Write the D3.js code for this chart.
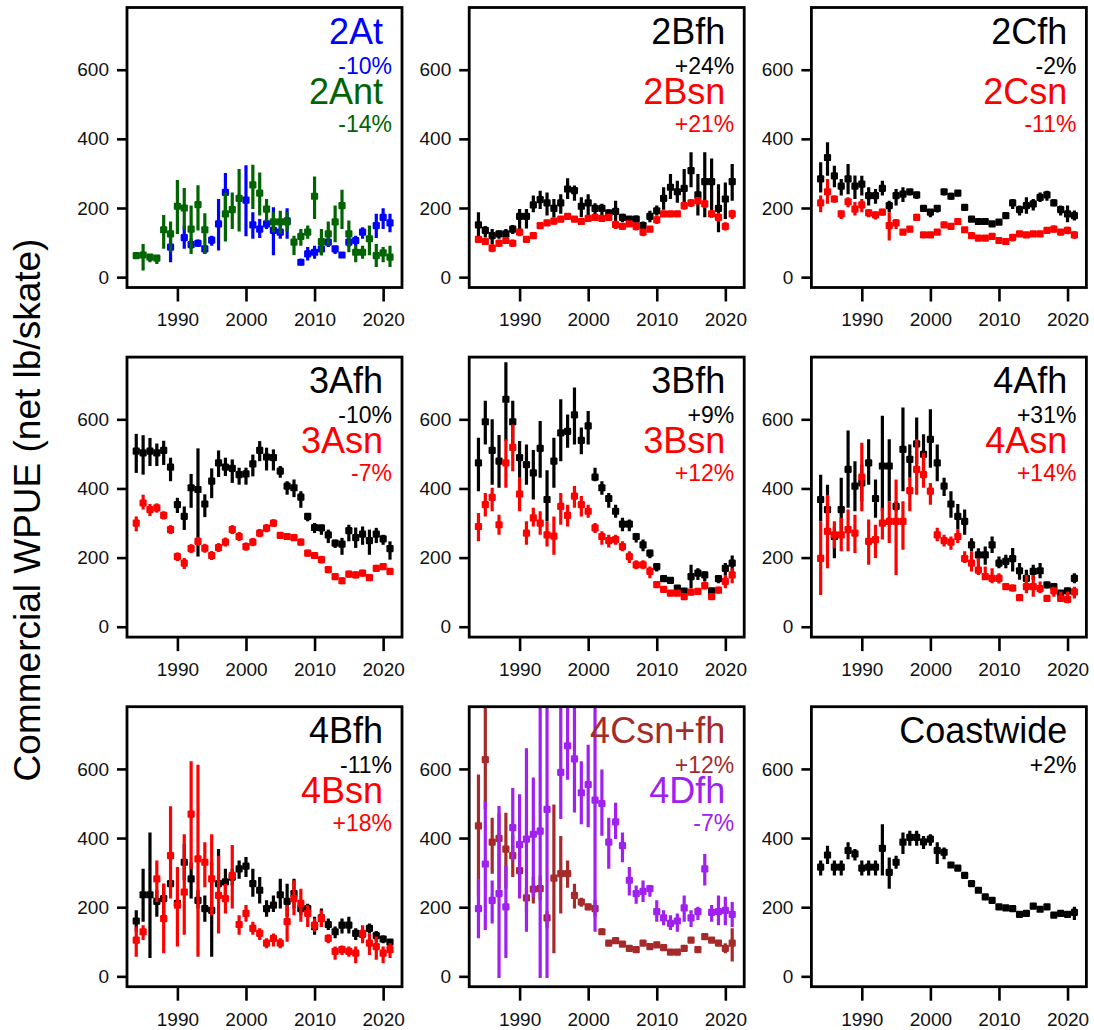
<!DOCTYPE html>
<html><head><meta charset="utf-8">
<script src="https://cdn.jsdelivr.net/npm/d3@7"></script>
<style>body{margin:0;background:#fff} svg{display:block} text{font-family:"Liberation Sans",Arial,sans-serif}</style>
</head><body><svg id="c" width="1094" height="1030"></svg>
<script>
const years = [1984,1985,1986,1987,1988,1989,1990,1991,1992,1993,1994,1995,1996,1997,1998,1999,2000,2001,2002,2003,2004,2005,2006,2007,2008,2009,2010,2011,2012,2013,2014,2015,2016,2017,2018,2019,2020,2021];
const yTicks = [0,200,400,600];
const xTicks = [1990,2000,2010,2020];
const yTitle = "Commercial WPUE (net lb/skate)";

// 2At
const v2At  = [null,null,null,null,null,87,null,114,94,98,82,107,154,245,null,null,223,151,139,154,135,130,163,null,43,67,72,82,101,82,64,101,106,130,null,149,173,157];
const lo2At = [null,null,null,null,null,43,null,82,82,87,67,91,77,188,null,null,118,111,113,139,63,111,111,null,34,48,53,63,87,67,58,87,91,111,null,113,139,130];
const hi2At = [null,null,null,null,null,120,null,149,111,109,91,120,226,301,null,null,324,188,168,168,202,154,199,null,53,87,91,96,115,91,72,115,120,144,null,183,199,183];
// 2Ant
const v2Ant  = [62,64,58,55,137,125,205,200,139,210,137,null,null,183,195,228,null,267,243,197,160,160,160,101,118,130,234,103,125,160,207,125,72,72,111,62,70,58];
const lo2Ant = [55,19,43,38,82,72,125,138,67,135,67,null,null,103,139,132,null,197,178,161,130,125,132,64,91,111,168,63,91,101,139,72,43,53,63,29,43,29];
const hi2Ant = [70,96,67,64,180,161,281,258,207,266,185,null,null,245,245,313,null,325,303,226,188,192,188,120,139,149,291,139,161,207,253,164,93,91,149,96,87,91];
// 2Bfh
const v2Bfh  = [151,135,120,125,125,139,176,176,209,224,215,199,215,255,250,205,215,199,199,186,190,173,168,168,149,176,192,228,260,247,257,308,238,276,276,199,226,276];
const lo2Bfh = [115,115,96,111,111,125,139,141,188,197,178,173,183,226,221,173,180,178,178,173,159,159,159,157,139,159,178,195,226,215,202,260,178,173,188,130,168,221];
const hi2Bfh = [188,148,139,135,139,151,197,197,236,250,245,226,240,286,265,231,240,214,212,196,221,183,173,178,161,192,207,260,298,279,313,361,298,361,343,269,274,327];
// 2Bsn
const v2Bsn  = [109,103,84,98,106,98,130,109,120,149,157,162,168,176,168,161,170,173,170,173,152,147,154,147,130,139,166,183,183,183,207,215,221,212,183,173,147,183];
const lo2Bsn = [99,95,72,87,96,87,118,101,111,144,149,152,160,170,161,154,163,165,163,166,139,139,146,135,118,130,154,175,176,176,195,203,210,200,172,160,135,168];
const hi2Bsn = [119,112,96,109,116,109,139,115,130,154,166,173,175,182,175,168,178,180,177,180,164,156,162,159,139,148,178,190,190,190,218,226,232,224,194,186,159,195];
// 2Cfh
const v2Cfh  = [284,346,293,263,284,263,269,236,236,257,207,236,240,247,238,199,188,199,247,234,243,202,168,161,161,154,159,178,215,195,207,212,231,238,215,195,183,178];
const lo2Cfh = [245,293,260,236,240,226,236,207,212,236,188,207,217,236,226,190,173,187,236,224,234,194,162,155,155,148,152,170,197,178,183,193,217,221,205,178,159,164];
const hi2Cfh = [332,390,322,284,327,294,293,260,255,279,221,255,260,255,247,207,197,207,255,244,250,210,174,167,167,160,166,186,226,207,231,226,245,250,225,207,207,193];
// 2Csn
const v2Csn  = [215,247,226,183,218,197,209,186,180,188,149,157,130,139,173,122,122,130,151,147,161,137,120,113,113,118,106,103,115,125,122,125,125,135,139,130,135,122];
const lo2Csn = [188,212,215,168,202,178,188,173,167,178,106,139,122,130,164,115,115,123,142,138,152,129,113,106,106,111,100,96,103,117,114,117,117,126,129,121,124,111];
const hi2Csn = [236,284,236,192,231,217,226,197,190,198,188,168,138,148,183,129,129,137,160,156,170,145,127,120,120,125,112,110,125,133,130,133,133,144,149,139,146,133];
// 3Afh
const v3Afh  = [508,503,508,503,510,462,353,319,402,397,355,421,474,462,458,440,442,471,510,491,489,450,407,402,375,319,287,286,266,242,239,278,258,268,249,268,254,226];
const lo3Afh = [445,440,465,465,468,421,329,280,344,203,317,372,433,436,416,411,411,435,479,452,452,431,382,375,344,305,271,266,242,228,208,247,228,237,208,242,237,194];
const hi3Afh = [558,554,546,530,538,489,373,348,442,516,383,458,510,489,484,460,460,498,537,518,513,465,421,426,392,329,300,295,281,252,257,295,287,290,281,286,266,247];
// 3Asn
const v3Asn  = [300,358,339,344,322,281,203,184,226,247,227,206,229,245,281,261,232,245,271,285,300,264,261,258,245,213,206,194,165,145,133,152,150,155,142,169,174,160];
const lo3Asn = [276,339,320,330,310,268,190,167,213,234,214,193,216,232,268,248,220,233,259,273,289,254,251,248,235,203,196,183,155,135,123,142,140,145,132,159,164,150];
const hi3Asn = [319,382,355,357,334,294,215,199,239,260,240,219,242,258,294,274,244,257,283,297,311,274,271,268,255,223,216,205,175,155,143,162,160,165,152,179,184,170];
// 3Bfh
const v3Bfh  = [474,593,510,479,658,593,489,469,445,516,368,479,561,565,613,539,581,433,402,371,334,297,297,261,237,213,174,139,134,112,103,145,155,150,104,139,169,184];
const lo3Bfh = [392,527,411,402,537,523,431,411,368,431,305,402,479,518,527,499,527,421,382,344,315,276,276,244,218,198,160,130,125,104,95,111,135,131,96,126,150,160];
const hi3Bfh = [547,654,600,555,765,654,537,527,511,595,453,547,658,614,692,576,624,460,421,387,353,315,310,271,252,223,184,148,143,120,111,179,169,160,112,150,184,206];
// 3Bsn
const v3Bsn  = [290,353,374,295,474,519,384,271,315,300,266,262,348,322,378,353,334,286,261,249,252,232,203,179,179,160,122,108,97,97,87,100,102,119,87,106,131,150];
const lo3Bsn = [247,319,334,266,402,450,334,237,290,266,232,208,295,290,344,319,315,271,237,229,237,218,184,166,166,140,112,99,88,88,78,90,92,108,77,96,111,126];
const hi3Bsn = [329,387,402,324,542,585,431,305,344,334,305,319,387,353,407,378,353,300,276,266,266,247,218,192,192,174,132,117,106,106,96,110,112,130,97,116,150,169];
// 4Afh
const v4Afh  = [368,339,261,339,455,407,416,474,371,465,465,348,513,484,529,499,542,474,407,355,319,305,237,208,208,237,184,189,197,162,140,160,162,121,116,97,104,140];
const lo4Afh = [305,276,198,276,344,334,363,411,315,334,363,334,392,431,469,450,460,421,378,315,281,266,218,189,179,213,169,169,160,136,121,136,140,111,106,87,92,126];
const hi4Afh = [440,411,290,431,568,479,469,542,426,610,542,363,634,527,605,557,629,527,431,392,355,339,256,227,232,261,203,208,228,184,165,179,184,129,126,106,113,155];
// 4Asn
const v4Asn  = [198,276,266,266,281,271,433,247,252,300,305,305,305,394,455,440,392,266,249,245,261,197,184,164,145,140,140,116,112,84,116,116,110,82,104,82,79,101];
const lo4Asn = [92,169,227,218,218,213,334,179,199,252,242,150,223,334,382,402,353,247,232,223,242,184,160,150,135,126,125,106,102,77,97,87,97,73,87,73,68,82];
const hi4Asn = [305,382,305,315,339,324,532,310,295,344,363,426,363,431,542,503,416,286,266,261,281,218,218,198,174,169,155,126,122,92,150,150,131,92,116,102,102,116];
// 4Bfh
const v4Bfh  = [160,236,236,217,225,268,211,330,282,220,196,191,268,273,287,311,319,268,249,196,206,236,217,239,196,196,144,169,150,129,148,148,124,122,139,118,108,99];
const lo4Bfh = [129,158,53,172,177,258,201,278,225,196,158,57,253,234,263,282,287,230,211,172,186,196,172,196,177,177,120,144,134,110,124,124,105,105,124,100,96,91];
const hi4Bfh = [191,311,416,249,268,277,220,383,330,249,234,330,368,311,311,335,345,311,287,220,234,282,268,282,215,210,172,196,167,144,167,172,139,134,153,131,118,105];
// 4Bsn
const v4Bsn  = [105,129,null,282,167,349,206,244,469,340,330,282,234,225,292,150,182,139,124,96,110,96,158,225,211,182,148,167,110,72,77,72,67,124,96,86,67,77];
const lo4Bsn = [57,105,null,215,67,225,86,120,311,57,258,177,124,182,196,120,158,120,105,81,86,81,100,177,158,143,129,143,96,48,62,57,38,96,62,48,38,53];
const hi4Bsn = [144,148,null,335,268,492,316,411,622,612,388,411,349,268,380,177,206,158,139,110,124,110,206,278,253,206,167,191,122,86,89,86,86,148,124,115,86,96];
// 4Csn+fh
const v4C  = [435,627,388,399,368,349,306,227,252,254,169,284,297,297,234,215,201,196,129,96,103,93,81,77,96,86,91,83,70,70,81,105,77,115,105,96,81,96];
const lo4C = [230,483,297,254,254,287,244,186,211,220,139,67,182,256,196,201,191,172,120,90,96,87,75,71,90,80,85,77,64,64,75,99,71,109,99,90,67,43];
const hi4C = [584,800,459,473,473,411,378,258,287,292,188,497,406,335,268,227,210,220,139,102,110,99,87,83,102,92,97,89,76,76,87,111,83,121,111,102,96,139];
// 4Dfh
const v4D  = [196,325,220,239,201,430,381,397,411,420,483,null,590,667,629,531,555,510,500,388,447,378,278,239,246,254,187,169,153,160,198,169,187,311,185,187,191,179];
const lo4D = [110,134,153,-5,53,335,225,129,230,-5,-5,null,455,569,474,440,431,129,407,311,397,330,234,210,215,230,158,148,134,129,158,143,163,263,158,148,148,143];
const hi4D = [282,507,277,493,320,545,527,660,575,800,800,null,800,800,800,622,670,800,598,459,502,416,316,263,277,263,220,191,177,182,234,191,201,354,206,234,230,215];
// Coastwide
const vCW  = [316,351,316,316,364,354,313,316,316,370,301,330,388,402,402,389,397,364,359,322,313,292,268,249,230,220,201,198,196,179,182,203,194,201,177,182,179,185];
const loCW = [292,325,292,292,339,335,292,292,292,292,253,311,354,378,378,368,378,325,339,314,305,284,261,242,223,213,195,192,190,173,176,196,188,195,170,176,172,163];
const hiCW = [335,378,335,335,388,368,335,335,335,440,344,349,416,421,421,406,411,388,373,330,321,300,275,256,237,227,207,204,202,185,188,210,200,207,184,188,186,201];

const panels = [
  {row:0,col:0,series:[{name:"2At",pct:"-10%",color:"#0000FF",v:v2At,lo:lo2At,hi:hi2At},{name:"2Ant",pct:"-14%",color:"#006400",v:v2Ant,lo:lo2Ant,hi:hi2Ant}]},
  {row:0,col:1,series:[{name:"2Bfh",pct:"+24%",color:"#000000",v:v2Bfh,lo:lo2Bfh,hi:hi2Bfh},{name:"2Bsn",pct:"+21%",color:"#FF0000",v:v2Bsn,lo:lo2Bsn,hi:hi2Bsn}]},
  {row:0,col:2,series:[{name:"2Cfh",pct:"-2%",color:"#000000",v:v2Cfh,lo:lo2Cfh,hi:hi2Cfh},{name:"2Csn",pct:"-11%",color:"#FF0000",v:v2Csn,lo:lo2Csn,hi:hi2Csn}]},
  {row:1,col:0,series:[{name:"3Afh",pct:"-10%",color:"#000000",v:v3Afh,lo:lo3Afh,hi:hi3Afh},{name:"3Asn",pct:"-7%",color:"#FF0000",v:v3Asn,lo:lo3Asn,hi:hi3Asn}]},
  {row:1,col:1,series:[{name:"3Bfh",pct:"+9%",color:"#000000",v:v3Bfh,lo:lo3Bfh,hi:hi3Bfh},{name:"3Bsn",pct:"+12%",color:"#FF0000",v:v3Bsn,lo:lo3Bsn,hi:hi3Bsn}]},
  {row:1,col:2,series:[{name:"4Afh",pct:"+31%",color:"#000000",v:v4Afh,lo:lo4Afh,hi:hi4Afh},{name:"4Asn",pct:"+14%",color:"#FF0000",v:v4Asn,lo:lo4Asn,hi:hi4Asn}]},
  {row:2,col:0,series:[{name:"4Bfh",pct:"-11%",color:"#000000",v:v4Bfh,lo:lo4Bfh,hi:hi4Bfh},{name:"4Bsn",pct:"+18%",color:"#FF0000",v:v4Bsn,lo:lo4Bsn,hi:hi4Bsn}]},
  {row:2,col:1,series:[{name:"4Csn+fh",pct:"+12%",color:"#A52A2A",v:v4C,lo:lo4C,hi:hi4C},{name:"4Dfh",pct:"-7%",color:"#A020F0",v:v4D,lo:lo4D,hi:hi4D}]},
  {row:2,col:2,series:[{name:"Coastwide",pct:"+2%",color:"#000000",v:vCW,lo:loCW,hi:hiCW}]}
];

const W = 275, H = 280, left0 = 127, colStep = 342.2, top0 = 7.5, rowStep = 349.6;
const svg = d3.select("#c");
const x = d3.scaleLinear().domain([1982.65, 2022.75]).range([0, W]);
const y = d3.scaleLinear().domain([-30, 780]).range([H, 0]);

panels.forEach((p, pi) => {
  const g = svg.append("g").attr("transform", `translate(${left0 + p.col*colStep},${top0 + p.row*rowStep})`);
  g.append("clipPath").attr("id", "clip" + pi).append("rect").attr("width", W).attr("height", H);
  const plot = g.append("g").attr("clip-path", `url(#clip${pi})`);
  p.series.forEach(s => {
    const pts = years.map((yr, i) => ({yr, v: s.v[i], lo: s.lo[i], hi: s.hi[i]})).filter(d => d.v !== null);
    plot.selectAll(null).data(pts).join("line")
      .attr("x1", d => x(d.yr)).attr("x2", d => x(d.yr))
      .attr("y1", d => y(d.lo)).attr("y2", d => y(d.hi))
      .attr("stroke", s.color).attr("stroke-width", 3.2);
    plot.selectAll(null).data(pts).join("rect")
      .attr("x", d => x(d.yr) - 3.6).attr("y", d => y(d.v) - 3.6)
      .attr("width", 7.2).attr("height", 7.2).attr("rx", 1.2)
      .attr("fill", s.color);
  });
  const ya = g.append("g").call(d3.axisLeft(y).tickValues(yTicks).tickSize(10).tickPadding(8).tickFormat(d3.format("d")));
  const xa = g.append("g").attr("transform", `translate(0,${H + 1})`)
    .call(d3.axisBottom(x).tickValues(xTicks).tickSize(13).tickPadding(11.5).tickFormat(d3.format("d")));
  [ya, xa].forEach(a => {
    a.select(".domain").remove();
    a.selectAll("line").attr("stroke", "#000").attr("stroke-width", 2.6);
    a.selectAll("text").attr("font-size", 19).attr("fill", "#111").attr("font-family", '"Liberation Sans",Arial,sans-serif');
  });
  g.append("rect").attr("width", W).attr("height", H).attr("fill", "none").attr("stroke", "#000").attr("stroke-width", 2.8);
  const nameBase = [36, 96], pctBase = [66, 124];
  p.series.forEach((s, si) => {
    g.append("text").attr("x", W - 19).attr("y", nameBase[si]).attr("text-anchor", "end")
      .attr("font-size", 36).attr("fill", s.color).text(s.name);
    g.append("text").attr("x", W - 10).attr("y", pctBase[si]).attr("text-anchor", "end")
      .attr("font-size", 23).attr("fill", s.color).text(s.pct);
  });
});

svg.append("text").attr("transform", "translate(40,510) rotate(-90)").attr("text-anchor", "middle")
  .attr("font-size", 37).attr("fill", "#000").text(yTitle);
</script></body></html>
